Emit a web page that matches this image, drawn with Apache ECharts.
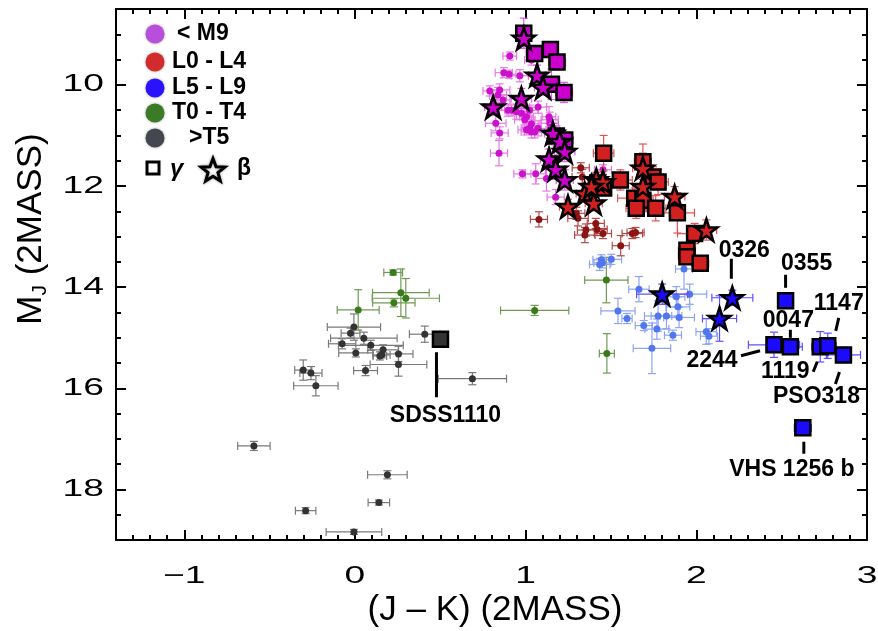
<!DOCTYPE html>
<html><head><meta charset="utf-8">
<script src="https://cdn.jsdelivr.net/npm/echarts@6/dist/echarts.min.js"></script>
<style>html,body{margin:0;padding:0;background:#fff}#c{width:878px;height:631px}</style>
</head><body><div id="c"></div>
<script>
// ---- data: [J-K, M_J, err(J-K), err(M_J)] ----
const m9Field = [
  [0.907, 9.43, 0.04, 0.08],[0.872, 9.76, 0.05, 0.10],[0.903, 9.79, 0.04, 0.08],[0.966, 9.82, 0.05, 0.12],
  [1.034, 9.51, 0.04, 0.10],[0.790, 10.12, 0.04, 0.10],[0.848, 10.10, 0.06, 0.12],[0.838, 10.20, 0.05, 0.15],
  [0.868, 10.30, 0.04, 0.10],[0.897, 10.50, 0.05, 0.12],[0.917, 10.50, 0.04, 0.10],[0.946, 10.53, 0.06, 0.15],
  [0.975, 10.56, 0.05, 0.12],[1.005, 10.63, 0.04, 0.10],[1.073, 10.44, 0.05, 0.12],[0.995, 10.69, 0.06, 0.15],
  [1.024, 10.86, 0.05, 0.10],[1.053, 10.93, 0.06, 0.12],[1.137, 10.63, 0.04, 0.20],[1.141, 10.69, 0.05, 0.15],
  [0.825, 10.76, 0.06, 0.15],[0.848, 10.95, 0.05, 0.12],[0.844, 11.35, 0.05, 0.25],[0.981, 11.76, 0.05, 0.08],
  [1.059, 11.76, 0.06, 0.20],[1.122, 11.85, 0.06, 0.25],[1.176, 12.22, 0.05, 0.15],[1.005, 10.89, 0.05, 0.10],
  [1.034, 10.93, 0.06, 0.12],[1.024, 10.50, 0.05, 0.10],[1.034, 10.77, 0.05, 0.12],[1.073, 10.86, 0.06, 0.15],
  [1.141, 10.76, 0.05, 0.12],[1.453, 11.68, 0.05, 0.10]
];
const m9Gamma = [
  [0.989, 8.98, 0.04, 0.30],[1.053, 9.38, 0.05, 0.15],[1.145, 9.30, 0.04, 0.12],[1.184, 9.55, 0.05, 0.15],
  [1.151, 9.99, 0.05, 0.30],[1.225, 10.15, 0.05, 0.20],[1.180, 11.01, 0.05, 0.20],[1.229, 11.09, 0.05, 0.15]
];
const m9Beta = [
  [0.990, 9.08, 0.04, 0.20],[1.067, 9.81, 0.05, 0.20],[1.102, 10.05, 0.05, 0.15],[0.975, 10.27, 0.06, 0.20],
  [0.810, 10.44, 0.05, 0.15],[1.160, 10.96, 0.05, 0.20],[1.200, 11.12, 0.05, 0.25],[1.229, 11.32, 0.06, 0.20],
  [1.137, 11.47, 0.05, 0.20],[1.176, 11.67, 0.06, 0.20],[1.229, 11.88, 0.05, 0.20]
];
const l04Field = [
  [1.323, 11.64, 0.05, 0.10],[1.332, 11.82, 0.06, 0.15],[1.078, 12.66, 0.05, 0.15],[1.297, 12.54, 0.05, 0.12],
  [1.307, 12.64, 0.06, 0.15],[1.353, 12.87, 0.05, 0.12],[1.347, 12.97, 0.06, 0.15],[1.411, 12.74, 0.05, 0.10],
  [1.418, 12.86, 0.06, 0.12],[1.453, 12.94, 0.05, 0.10],[1.557, 13.18, 0.05, 0.20],[1.625, 12.94, 0.06, 0.10],
  [1.644, 12.92, 0.05, 0.10]
];
const l04Gamma = [
  [1.457, 11.35, 0.06, 0.35],[1.555, 11.88, 0.07, 0.20],[1.687, 11.52, 0.05, 0.35],[1.746, 11.82, 0.06, 0.20],
  [1.776, 11.92, 0.06, 0.25],[1.639, 12.24, 0.10, 0.20],[1.687, 12.28, 0.06, 0.20],[1.648, 12.44, 0.06, 0.20],
  [1.762, 12.44, 0.06, 0.25],[1.889, 12.53, 0.10, 0.40],[1.990, 12.94, 0.10, 0.20],[1.945, 13.27, 0.05, 0.15],
  [1.945, 13.40, 0.05, 0.15],[2.023, 13.53, 0.05, 0.15],[1.422, 11.94, 0.04, 0.10],[1.457, 12.04, 0.04, 0.10]
];
const l04Beta = [
  [1.687, 11.65, 0.06, 0.30],[1.687, 12.01, 0.06, 0.25],[1.873, 12.21, 0.06, 0.20],[2.059, 12.87, 0.06, 0.20],
  [1.248, 12.41, 0.05, 0.15],[1.346, 12.15, 0.05, 0.15],[1.399, 12.34, 0.05, 0.15],[1.414, 11.88, 0.05, 0.15],
  [1.453, 11.92, 0.05, 0.15],[1.385, 12.01, 0.05, 0.15]
];
const l59Field = [
  [1.444, 13.46, 0.05, 0.10],[1.502, 13.45, 0.06, 0.10],[1.434, 13.55, 0.06, 0.12],[1.450, 13.52, 0.05, 0.10],
  [1.928, 13.64, 0.05, 0.40],[1.664, 14.04, 0.06, 0.25],[1.961, 14.14, 0.10, 0.20],[1.883, 14.19, 0.05, 0.20],
  [1.892, 14.39, 0.07, 0.20],[1.541, 14.47, 0.10, 0.25],[1.594, 14.62, 0.03, 0.10],[1.776, 14.57, 0.08, 0.30],
  [1.825, 14.57, 0.09, 0.25],[1.899, 14.60, 0.09, 0.20],[1.692, 14.76, 0.05, 0.10],[1.769, 14.83, 0.07, 0.20],
  [1.863, 14.95, 0.05, 0.10],[2.058, 14.88, 0.06, 0.25],[2.074, 14.97, 0.05, 0.15],[1.740, 15.21, 0.11, 0.50]
];
const l59Beta = [[1.800, 14.14, 0.15, 0.20],[2.211, 14.21, 0.12, 0.15],[2.136, 14.62, 0.10, 0.45]];
const l59Gamma = [
  [2.523, 14.27, 0, 0],[2.455, 15.14, 0.15, 0.25],[2.551, 15.18, 0.07, 0.10],[2.726, 15.18, 0.05, 0.30],
  [2.770, 15.16, 0.05, 0.25],[2.862, 15.34, 0.10, 0.15],[2.624, 16.78, 0.05, 0.15]
];
const t04Field = [
  [0.224, 13.71, 0.055, 0.05],[0.269, 14.11, 0.166, 0.47],[0.298, 14.22, 0.197, 0.39],[0.228, 14.31, 0.124, 0.08],
  [0.019, 14.45, 0.123, 0.40],[1.053, 14.46, 0.20, 0.10],[1.473, 13.86, 0.127, 0.45],[1.476, 15.31, 0.044, 0.39]
];
const t5Field = [
  [-0.006, 14.79, 0.156, 0.26],[-0.026, 14.91, 0.055, 0.10],[0.052, 15.01, 0.195, 0.12],[-0.075, 15.12, 0.08, 0.10],
  [0.093, 15.15, 0.19, 0.10],[0.005, 15.30, 0.10, 0.08],[0.165, 15.24, 0.09, 0.10],[0.146, 15.36, 0.04, 0.08],
  [0.156, 15.34, 0.05, 0.06],[0.255, 15.32, 0.085, 0.15],[0.409, 14.93, 0.09, 0.16],[0.255, 15.53, 0.166, 0.23],
  [0.062, 15.65, 0.07, 0.10],[-0.303, 15.64, 0.05, 0.20],[-0.258, 15.70, 0.065, 0.13],[-0.229, 15.95, 0.13, 0.20],
  [0.688, 15.81, 0.20, 0.12],[-0.592, 17.14, 0.095, 0.09],[0.190, 17.71, 0.116, 0.08],[0.140, 18.26, 0.063, 0.05],
  [-0.289, 18.42, 0.06, 0.06],[-0.006, 18.84, 0.163, 0.05]
];
const t5Gamma = [[0.501, 15.03, 0.06, 0.05]];

// tick labels
const xTicks = [-1, 0, 1, 2, 3];
const yTicks = [10, 12, 14, 16, 18];

// annotations: label text and the object it marks
const annoNames = ['0326', '0355', '1147', '0047', '2244', '1119', 'PSO318', 'VHS 1256 b', 'SDSS1110'];
const annoTargets = [l59Beta[1], l59Gamma[0], l59Gamma[4], l59Gamma[2], l59Gamma[1], l59Gamma[3], l59Gamma[5], l59Gamma[6], t5Gamma[0]];

// ---- layout (pixel offsets of leader line and text relative to the object) ----
const annoLayout = [
  { line: [-1, -39, -1, -19], text: [12, -47] },
  { line: [0, -26, 0, -13], text: [21, -37] },
  { line: [11, -28, 8, -15], text: [11, -42] },
  { line: [0, -17, 0, -9], text: [-2, -26] },
  { line: [-33, 11, -14, 6], text: [-62, 16] },
  { line: [-7, 25, -3, 15], text: [-35, 25] },
  { line: [-4, 17, -8, 29], text: [-27, 42] },
  { line: [1, 14, 1, 26], text: [-11, 42] },
  { line: [-4, 13, -4, 58], text: [5, 76] }
];

const FONT = '"Liberation Sans", Arial, Helvetica, sans-serif';
const STAR = 'path://M50,2 L61.8,36.2 L97.6,36.2 L68.6,57.4 L79.6,91.8 L50,70.6 L20.4,91.8 L31.4,57.4 L2.4,36.2 L38.2,36.2 Z';
const TICK_FONT = '24px ' + FONT, TICK_SX = 1.55;

function range(a, b, step, skip) {
  const out = [];
  for (let v = a; v <= b + 1e-9; v += step) {
    const r = Math.round(v * 100) / 100;
    if (!skip.some(s => Math.abs(s - r) < 1e-6)) out.push(r);
  }
  return out;
}
const xMinor = range(-1.4, 3.0, 0.1, xTicks);
const yMinor = range(8.5, 19.0, 0.5, yTicks);

function errSeries(data, color, z, lw) {
  return {
    type: 'custom', data: data, z: z, silent: true, clip: true,
    encode: { x: 0, y: 1 },
    renderItem: function (params, api) {
      const x = api.value(0), y = api.value(1), ex = api.value(2), ey = api.value(3);
      const c = api.coord([x, y]);
      const st = { stroke: color, lineWidth: lw || 1.2, fill: null };
      const cap = 4;
      const ch = [];
      if (ex > 0) {
        const l = api.coord([x - ex, y]), r = api.coord([x + ex, y]);
        ch.push({ type: 'line', shape: { x1: l[0], y1: c[1], x2: r[0], y2: c[1] }, style: st });
        ch.push({ type: 'line', shape: { x1: l[0], y1: c[1] - cap, x2: l[0], y2: c[1] + cap }, style: st });
        ch.push({ type: 'line', shape: { x1: r[0], y1: c[1] - cap, x2: r[0], y2: c[1] + cap }, style: st });
      }
      if (ey > 0) {
        const t = api.coord([x, y - ey]), b = api.coord([x, y + ey]);
        ch.push({ type: 'line', shape: { x1: c[0], y1: t[1], x2: c[0], y2: b[1] }, style: st });
        ch.push({ type: 'line', shape: { x1: c[0] - cap, y1: t[1], x2: c[0] + cap, y2: t[1] }, style: st });
        ch.push({ type: 'line', shape: { x1: c[0] - cap, y1: b[1], x2: c[0] + cap, y2: b[1] }, style: st });
      }
      return { type: 'group', children: ch };
    }
  };
}
function dotSeries(data, color, z) {
  return { type: 'scatter', data: data, z: z, symbol: 'circle', symbolSize: 7, silent: true,
    itemStyle: { color: color, opacity: 1 }, encode: { x: 0, y: 1 } };
}
function bigSeries(data, color, symbol, size, z) {
  return { type: 'scatter', data: data, z: z, symbol: symbol, symbolSize: size, silent: true,
    itemStyle: { color: color, borderColor: '#000', borderWidth: 2.5, opacity: 1 }, encode: { x: 0, y: 1 } };
}
function fmt(v) { return v < 0 ? '\u2212' + Math.abs(v) : String(v); }

const annoData = annoTargets.map((p, i) => [p[0], p[1], i]);

const series = [
  errSeries(t5Field, '#7a7a7a', 1), dotSeries(t5Field, '#333333', 2),
  errSeries(t04Field, '#6f9a55', 1), dotSeries(t04Field, '#3a7a1a', 2),
  errSeries(l59Field, '#8ea4f4', 1), dotSeries(l59Field, '#5276ee', 2),
  errSeries(l04Field, '#b24a4a', 1), dotSeries(l04Field, '#8a1414', 2),
  errSeries(m9Field, '#e57ae5', 1), dotSeries(m9Field, '#cc10cc', 2),
  errSeries(l04Gamma.concat(l04Beta), '#dd5555', 3),
  errSeries(l59Gamma.concat(l59Beta), '#5f4fff', 3),
  errSeries(m9Gamma.concat(m9Beta), '#e060e0', 3),
  bigSeries(t5Gamma, '#333333', 'rect', 15, 4),
  bigSeries(l04Gamma, '#d22020', 'rect', 15, 4),
  bigSeries(l04Beta, '#d22020', STAR, 22, 5),
  bigSeries(l59Gamma, '#1c0aff', 'rect', 15, 4),
  bigSeries(l59Beta, '#1c0aff', STAR, 22, 5),
  bigSeries(m9Gamma, '#cc00cc', 'rect', 15, 6),
  bigSeries(m9Beta, '#cc00cc', STAR, 22, 7),
  {
    type: 'custom', data: annoData, z: 8, silent: true, clip: false, encode: { x: 0, y: 1 },
    renderItem: function (params, api) {
      const c = api.coord([api.value(0), api.value(1)]);
      const i = api.value(2);
      const L = annoLayout[i];
      return { type: 'group', children: [
        { type: 'line', shape: { x1: c[0] + L.line[0], y1: c[1] + L.line[1], x2: c[0] + L.line[2], y2: c[1] + L.line[3] },
          style: { stroke: '#000', lineWidth: 3 } },
        { type: 'text', x: c[0] + L.text[0], y: c[1] + L.text[1],
          style: { text: annoNames[i], fill: '#000', font: 'bold 23px ' + FONT, align: 'center', verticalAlign: 'middle' } }
      ] };
    }
  },
  // x tick labels (placed through the axis scale)
  {
    type: 'custom', data: xTicks.map(v => [v]), z: 9, silent: true, clip: false, encode: { x: 0 },
    renderItem: function (params, api) {
      const v = api.value(0);
      const c = api.coord([v, 19]);
      return { type: 'text', x: c[0], y: c[1] + 36, scaleX: TICK_SX,
        style: { text: fmt(v), font: TICK_FONT, fill: '#000', align: 'center', verticalAlign: 'middle' } };
    }
  },
  // y tick labels
  {
    type: 'custom', data: yTicks.map(v => [-1.4, v]), z: 9, silent: true, clip: false, encode: { x: 0, y: 1 },
    renderItem: function (params, api) {
      const v = api.value(1);
      const c = api.coord([-1.4, v]);
      return { type: 'text', x: c[0] - 12, y: c[1], scaleX: TICK_SX,
        style: { text: fmt(v), font: TICK_FONT, fill: '#000', align: 'right', verticalAlign: 'middle' } };
    }
  }
];

function xAx(pos, major) {
  return {
    type: 'value', position: pos, min: -1.4, max: 3.0,
    axisLine: { show: major, onZero: false, lineStyle: { color: '#000', width: 2 } },
    axisTick: { show: true, inside: true, length: major ? 10 : 5, customValues: major ? xTicks : xMinor, lineStyle: { color: '#000', width: 2 } },
    axisLabel: { show: false },
    splitLine: { show: false }
  };
}
function yAx(pos, major) {
  return {
    type: 'value', position: pos, min: 8.5, max: 19, inverse: true,
    axisLine: { show: major, onZero: false, lineStyle: { color: '#000', width: 2 } },
    axisTick: { show: true, inside: true, length: major ? 10 : 5, customValues: major ? yTicks : yMinor, lineStyle: { color: '#000', width: 2 } },
    axisLabel: { show: false },
    splitLine: { show: false }
  };
}

function starPoints(cx, cy, R, r) {
  const pts = [];
  for (let k = 0; k < 10; k++) {
    const a = -Math.PI / 2 + k * Math.PI / 5;
    const rr = k % 2 === 0 ? R : r;
    pts.push([cx + rr * Math.cos(a), cy + rr * Math.sin(a)]);
  }
  return pts;
}

const LX = 155;
const legendItems = [
  { c: '#b84fdc', t: '< M9', dx: 22, y: 34 },
  { c: '#d12b2e', t: 'L0 - L4', dx: 17, y: 62 },
  { c: '#2b12ff', t: 'L5 - L9', dx: 17, y: 88 },
  { c: '#3b7a27', t: 'T0 - T4', dx: 17, y: 113 },
  { c: '#44474e', t: '>T5', dx: 34, y: 138 }
];
const graphic = [];
legendItems.forEach(it => {
  graphic.push({ type: 'circle', shape: { cx: LX, cy: it.y, r: 9.5 }, style: { fill: it.c, shadowBlur: 3, shadowColor: 'rgba(0,0,0,0.35)' }, z: 20 });
  graphic.push({ type: 'text', x: LX + it.dx, y: it.y, style: { text: it.t, font: 'bold 23px ' + FONT, fill: '#000', verticalAlign: 'middle' }, z: 20 });
});
graphic.push({ type: 'rect', shape: { x: 147, y: 162, width: 12, height: 12 }, style: { fill: '#fff', stroke: '#000', lineWidth: 3 }, z: 20 });
graphic.push({ type: 'text', x: 170, y: 169, style: { text: '\u03B3', font: 'italic bold 24px ' + FONT, fill: '#000', verticalAlign: 'middle' }, z: 20 });
graphic.push({ type: 'polygon', shape: { points: starPoints(213, 171, 12.5, 5.2) },
  style: { fill: '#fff', stroke: '#000', lineWidth: 3, shadowBlur: 3, shadowColor: 'rgba(0,0,0,0.4)' }, z: 20 });
graphic.push({ type: 'text', x: 237, y: 169, style: { text: '\u03B2', font: 'bold 23px ' + FONT, fill: '#000', verticalAlign: 'middle' }, z: 20 });
// axis titles
graphic.push({ type: 'text', x: 495, y: 610, style: { text: '(J \u2013 K) (2MASS)', font: '35px ' + FONT, fill: '#000', align: 'center', verticalAlign: 'middle' }, z: 20 });
graphic.push({ type: 'text', x: 31, y: 229, rotation: Math.PI / 2,
  style: { text: '{a|M}{s|J}{a| (2MASS)}', fill: '#000', align: 'center', verticalAlign: 'middle',
    rich: { a: { font: '35px ' + FONT, fill: '#000' }, s: { font: '21px ' + FONT, fill: '#000', padding: [18, 0, 0, 0] } } }, z: 20 });

const chart = echarts.init(document.getElementById('c'), null, { renderer: 'canvas' });
chart.setOption({
  animation: false,
  backgroundColor: '#fff',
  grid: { left: 116, right: 11, top: 9, bottom: 91, containLabel: false },
  xAxis: [xAx('bottom', true), xAx('bottom', false), xAx('top', true), xAx('top', false)],
  yAxis: [yAx('left', true), yAx('left', false), yAx('right', true), yAx('right', false)],
  series: series,
  graphic: graphic
});
</script></body></html>
